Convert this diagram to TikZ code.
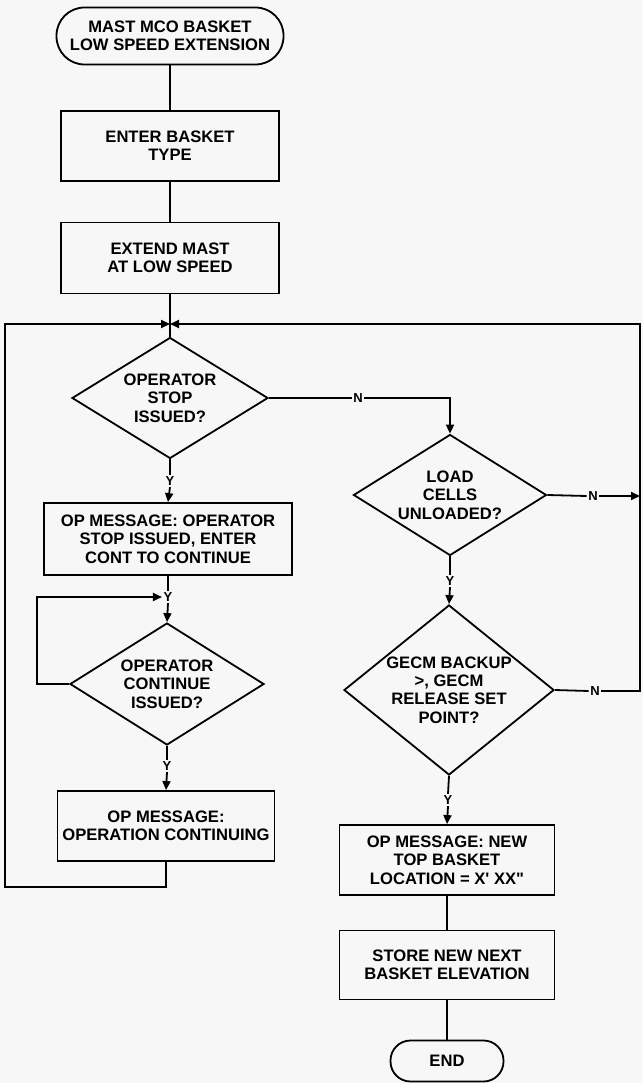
\documentclass[tikz,border=0pt]{standalone}
\usepackage{fontspec}
\setmainfont{Liberation Sans}
\newfontfamily\rawfont{Liberation Sans}[Ligatures=TeXOff]
\usetikzlibrary{shapes.geometric,arrows.meta}
\definecolor{paper}{RGB}{247,247,247}
\begin{document}
\begin{tikzpicture}[x=1pt,y=-1pt,
  txt/.style={font=\fontsize{16.6}{18.3}\selectfont\bfseries, align=center, inner sep=0pt},
  lab/.style={font=\fontsize{13}{13}\selectfont\bfseries, inner sep=1.5pt},
  proc/.style={txt, draw, line width=1.8pt, minimum height=70pt},
  term/.style={txt, draw, line width=1.8pt},
  dec/.style={draw, diamond, line width=1.8pt, inner sep=0pt},
  line/.style={line width=1.8pt},
  arr/.style={line width=1.8pt, -{Triangle[length=9pt,width=8pt]}}
]
% page
\fill[paper] (0,0) rectangle (643,1083);
\useasboundingbox (0,0) rectangle (643,1083);

% left column
\node[term, minimum width=227pt, minimum height=57pt, rounded corners=28pt] (start) at (170,36)
  {MAST MCO BASKET\\LOW SPEED EXTENSION};
\node[proc, minimum width=218pt] (b1) at (170,146) {ENTER BASKET\\TYPE};
\node[proc, minimum width=218pt, minimum height=71pt] (b2) at (170,258) {EXTEND MAST\\AT LOW SPEED};
\coordinate (M) at (170,324);
\node[dec, minimum width=196pt, minimum height=121pt] (d1) at (170,398) {};
\node[txt] (d1t) at (170,398) {OPERATOR\\STOP\\ISSUED?};
\node[proc, minimum width=248pt, minimum height=72pt] (b3) at (168,539)
  {OP MESSAGE: OPERATOR\\STOP ISSUED, ENTER\\CONT TO CONTINUE};
\node[dec, minimum width=194pt, minimum height=122pt] (d2) at (167,684) {};
\node[txt] (d2t) at (167,684) {OPERATOR\\CONTINUE\\ISSUED?};
\node[proc, minimum width=217pt] (b4) at (166,826) {OP MESSAGE:\\OPERATION CONTINUING};

% right column
\node[dec, minimum width=193pt, minimum height=121pt] (d3) at (450,495) {};
\node[txt] (d3t) at (450,495) {LOAD\\CELLS\\UNLOADED?};
\node[dec, minimum width=210pt, minimum height=170pt] (d4) at (449,690) {};
\node[txt] (d4t) at (449,690) {GECM BACKUP\\>, GECM\\RELEASE SET\\POINT?};
\node[proc, minimum width=215pt] (b5) at (447,860)
  {OP MESSAGE: NEW\\TOP BASKET\\{\rawfont\bfseries LOCATION = X' XX"}};
\node[proc, minimum width=215pt, minimum height=69pt] (b6) at (447,965) {STORE NEW NEXT\\BASKET ELEVATION};
\node[term, minimum width=113pt, minimum height=41pt, rounded corners=20pt] (end) at (447,1061) {END};

% branch labels
\node[lab] (y1) at (170,481) {Y};
\node[lab] (y2) at (168,597) {Y};
\node[lab] (y3) at (167,766) {Y};
\node[lab] (y4) at (450,581) {Y};
\node[lab] (y5) at (448,800) {Y};
\node[lab] (n1) at (358,398) {N};
\node[lab] (n2) at (593,496) {N};
\node[lab] (n3) at (595,691) {N};

% loop corners
\coordinate (LB) at (166,887);
\coordinate (LBL) at (5,887);
\coordinate (LT) at (5,324);
\coordinate (RT) at (640,324);
\coordinate (R3) at (640,496);
\coordinate (R4) at (640,691);
\coordinate (C1) at (450,398);
\coordinate (K1) at (37,684);
\coordinate (K2) at (37,597);

% main flow
\draw[line] (start) -- (b1);
\draw[line] (b1) -- (b2);
\draw[line] (b2.south) -- (d1.north);
\draw[line] (d1.south) -- (y1.north);
\draw[arr] (y1.south) -- (b3.north);
\draw[line] (b3.south) -- (y2.north);
\draw[arr] (y2.south) -- (d2.north);
\draw[line] (d2.south) -- (y3.north);
\draw[arr] (y3.south) -- (b4.north);
\draw[arr] (d2.west) -- (K1) -- (K2) -- (y2.west);
\draw[arr] (b4.south) -- (LB) -- (LBL) -- (LT) -- (M);

\draw[line] (d1.east) -- (n1.west);
\draw[arr] (n1.east) -- (C1) -- (d3.north);
\draw[line] (d3.south) -- (y4.north);
\draw[arr] (y4.south) -- (d4.north);
\draw[line] (d3.east) -- (n2.west);
\draw[arr] (n2.east) -- (R3);
\draw[line] (d4.east) -- (n3.west);
\draw[arr] (n3.east) -- (R4) -- (RT) -- (M);
\draw[line] (d4.south) -- (y5.north);
\draw[arr] (y5.south) -- (b5.north);
\draw[line] (b5) -- (b6);
\draw[line] (b6) -- (end);
\end{tikzpicture}
\end{document}
